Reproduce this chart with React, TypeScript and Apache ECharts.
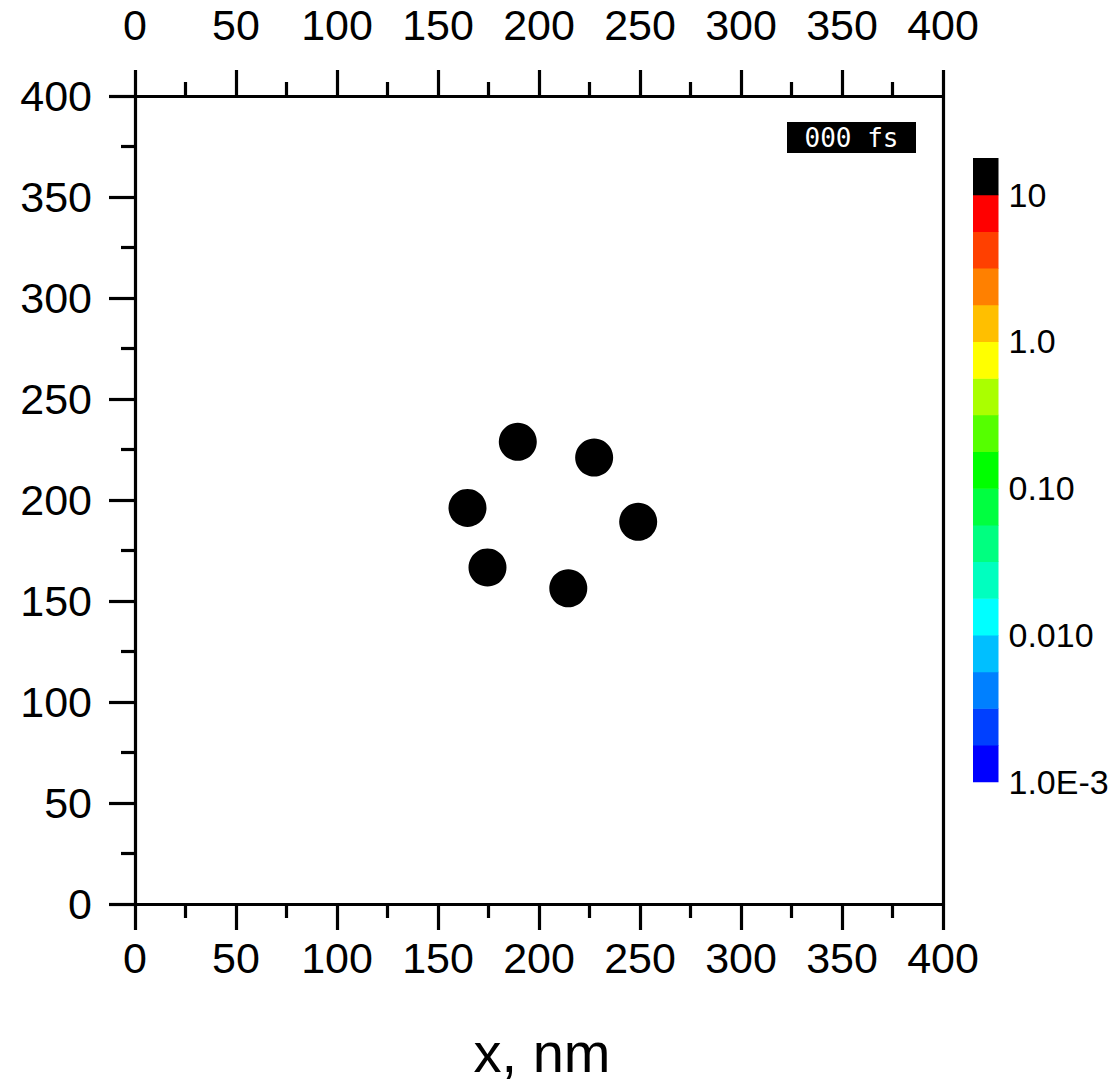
import React, { useEffect, useRef } from 'react';
import * as echarts from 'echarts';

// Particle centres (nm)
const particleX = [189.5, 227.3, 164.6, 249.1, 174.5, 214.5];
const particleY = [228.8, 221.0, 196.1, 189.2, 166.6, 156.3];

// Colour bar: blocks from bottom (1.0E-3) upwards, each a quarter decade
const colorbarColors = [
  '#0000FF', '#0040FF', '#0080FF', '#00BFFF', '#00FFFF', '#00FFBF',
  '#00FF80', '#00FF40', '#00FF00', '#55FF00', '#AAFF00', '#FFFF00',
  '#FFBF00', '#FF8000', '#FF4000', '#FF0000', '#000000',
];
const colorbarLogMin = -3;
const colorbarLogStep = 0.25;
const colorbarTickValues = [-3, -2, -1, 0, 1];
const colorbarTickLabels = ['1.0E-3', '0.010', '0.10', '1.0', '10'];

const axisMin = 0;
const axisMax = 400;
const axisInterval = 50;

const timeLabel = '000 fs';
const xAxisTitle = 'x, nm';

const FONT = '"Liberation Sans", Arial, sans-serif';

export default function App() {
  const ref = useRef<HTMLDivElement>(null);

  useEffect(() => {
    if (!ref.current) return;
    const chart = echarts.init(ref.current, undefined, { renderer: 'svg' });

    const lineStyle = { color: '#000', width: 3.2 };
    const mainAxis = (position: string, margin: number, gridIndex = 0) => ({
      type: 'value',
      gridIndex,
      position,
      min: axisMin,
      max: axisMax,
      interval: axisInterval,
      axisLine: { show: true, onZero: false, lineStyle },
      axisTick: { show: true, inside: false, length: 26, lineStyle },
      minorTick: { show: true, splitNumber: 2, length: 14, lineStyle },
      axisLabel: {
        show: true,
        interval: 0,
        margin,
        fontSize: 43,
        color: '#000',
        fontFamily: FONT,
      },
      splitLine: { show: false },
      minorSplitLine: { show: false },
    });

    const colorbarData = colorbarColors.map((_, i) => [
      0,
      colorbarLogMin + i * colorbarLogStep,
      colorbarLogMin + (i + 1) * colorbarLogStep,
    ]);

    const option: any = {
      animation: false,
      backgroundColor: '#fff',
      grid: [
        { left: 135, top: 96, width: 808, height: 808, containLabel: false },
        { left: 973, top: 158, width: 25.5, height: 623.7, containLabel: false },
      ],
      xAxis: [
        mainAxis('bottom', 32),
        mainAxis('top', 50),
        { type: 'value', gridIndex: 1, min: 0, max: 1, show: false },
      ],
      yAxis: [
        mainAxis('left', 43),
        {
          type: 'value',
          gridIndex: 0,
          position: 'right',
          min: axisMin,
          max: axisMax,
          interval: axisInterval,
          axisLine: { show: true, onZero: false, lineStyle },
          axisTick: { show: false },
          minorTick: { show: false },
          axisLabel: { show: false },
          splitLine: { show: false },
        },
        {
          type: 'value',
          gridIndex: 1,
          position: 'right',
          min: colorbarLogMin,
          max: colorbarLogMin + colorbarColors.length * colorbarLogStep,
          interval: 1,
          axisLine: { show: false },
          axisTick: { show: false },
          splitLine: { show: false },
          axisLabel: {
            show: true,
            margin: 10,
            fontSize: 34,
            color: '#000',
            fontFamily: FONT,
            formatter: (v: number) => {
              const idx = colorbarTickValues.findIndex((t) => Math.abs(t - v) < 1e-9);
              return idx >= 0 ? colorbarTickLabels[idx] : '';
            },
          },
        },
      ],
      series: [
        {
          type: 'scatter',
          xAxisIndex: 0,
          yAxisIndex: 0,
          symbol: 'circle',
          symbolSize: 38,
          itemStyle: { color: '#000', opacity: 1 },
          data: particleX.map((x, i) => [x, particleY[i]]),
          silent: true,
        },
        {
          type: 'custom',
          xAxisIndex: 2,
          yAxisIndex: 2,
          encode: { x: 0, y: [1, 2] },
          data: colorbarData,
          renderItem: (params: any, api: any) => {
            const lo = api.coord([0, api.value(1)]);
            const hi = api.coord([1, api.value(2)]);
            return {
              type: 'rect',
              shape: {
                x: lo[0],
                y: hi[1],
                width: hi[0] - lo[0],
                height: lo[1] - hi[1] + 0.5,
              },
              style: { fill: colorbarColors[params.dataIndex], stroke: null },
            };
          },
          silent: true,
        },
      ],
      graphic: [
        {
          type: 'rect',
          left: 787,
          top: 122,
          shape: { width: 129, height: 31 },
          style: { fill: '#000' },
          silent: true,
        },
        {
          type: 'text',
          x: 851.5,
          y: 138,
          style: {
            text: timeLabel,
            fill: '#fff',
            font: '26px "DejaVu Sans Mono", monospace',
            align: 'center',
            verticalAlign: 'middle',
          },
          silent: true,
        },
        {
          type: 'text',
          x: 542,
          y: 1052,
          style: {
            text: xAxisTitle,
            fill: '#000',
            font: `56px ${FONT}`,
            align: 'center',
            verticalAlign: 'middle',
          },
          silent: true,
        },
      ],
    };

    chart.setOption(option);
    return () => chart.dispose();
  }, []);

  return (
    <div
      ref={ref}
      style={{ position: 'fixed', left: 0, top: 0, width: 1119, height: 1084, background: '#fff' }}
    />
  );
}
